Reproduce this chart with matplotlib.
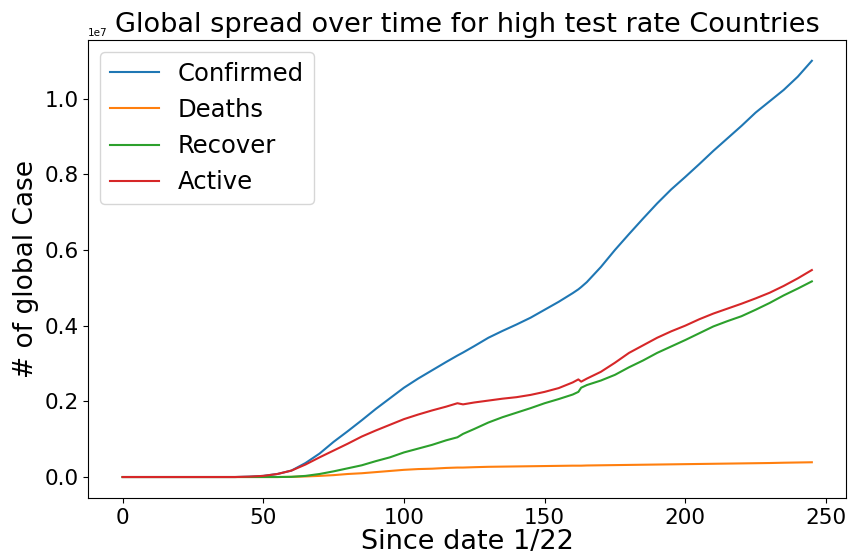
import matplotlib
matplotlib.use("Agg")
import matplotlib.pyplot as plt
import numpy as np

days = [0, 5, 10, 15, 20, 25, 30, 35, 40, 45, 50, 55, 60, 65, 70, 75, 80, 85, 90, 95,
        100, 105, 110, 115, 119, 121, 125, 130, 135, 140, 145, 150, 155, 160, 162, 163,
        165, 170, 175, 180, 185, 190, 195, 200, 205, 210, 215, 220, 225, 230, 235, 240, 245]

# values in millions of cases
confirmed = [0, 0, 0, 0, 0, 0, 0, 0, 0, 0.01, 0.03, 0.08, 0.17, 0.37, 0.62, 0.93, 1.21, 1.50, 1.80, 2.08,
             2.36, 2.60, 2.82, 3.04, 3.21, 3.29, 3.46, 3.68, 3.86, 4.03, 4.21, 4.42, 4.63, 4.86, 4.96, 5.02,
             5.15, 5.55, 6.00, 6.42, 6.83, 7.23, 7.60, 7.93, 8.27, 8.62, 8.95, 9.28, 9.63, 9.93, 10.23, 10.58, 11.0]
deaths = [0, 0, 0, 0, 0, 0, 0, 0, 0, 0, 0, 0, 0.005, 0.015, 0.03, 0.05, 0.08, 0.10, 0.13, 0.16,
          0.19, 0.21, 0.22, 0.24, 0.25, 0.25, 0.26, 0.27, 0.275, 0.28, 0.285, 0.29, 0.295, 0.30, 0.30, 0.30,
          0.305, 0.31, 0.315, 0.32, 0.325, 0.33, 0.335, 0.34, 0.345, 0.35, 0.355, 0.36, 0.365, 0.37, 0.378, 0.384, 0.39]
recover = [0, 0, 0, 0, 0, 0, 0, 0, 0, 0, 0, 0, 0.005, 0.03, 0.08, 0.15, 0.23, 0.31, 0.42, 0.52,
           0.65, 0.75, 0.85, 0.97, 1.05, 1.14, 1.27, 1.44, 1.58, 1.70, 1.82, 1.95, 2.06, 2.18, 2.25, 2.36,
           2.43, 2.55, 2.70, 2.90, 3.08, 3.28, 3.45, 3.62, 3.80, 3.98, 4.12, 4.25, 4.42, 4.60, 4.80, 4.98, 5.17]
active = [0, 0, 0, 0, 0, 0, 0, 0, 0, 0.01, 0.03, 0.08, 0.17, 0.33, 0.52, 0.70, 0.88, 1.07, 1.23, 1.38,
          1.53, 1.65, 1.76, 1.86, 1.95, 1.92, 1.97, 2.02, 2.07, 2.11, 2.17, 2.25, 2.35, 2.50, 2.58, 2.52,
          2.60, 2.78, 3.02, 3.28, 3.48, 3.68, 3.85, 4.00, 4.17, 4.32, 4.45, 4.58, 4.72, 4.87, 5.05, 5.25, 5.47]

series = [("Confirmed", confirmed), ("Deaths", deaths), ("Recover", recover), ("Active", active)]

fig = plt.figure(figsize=(8.48, 5.55), dpi=100)
ax = fig.add_axes([0.104, 0.103, 0.894, 0.825])

for name, values in series:
    ax.plot(days, np.array(values) * 1e6, label=name)

ax.set_title("Global spread over time for high test rate Countries", fontsize=19.5)
ax.set_xlabel("Since date 1/22", fontsize=19.5, labelpad=1)
ax.set_ylabel("# of global Case", fontsize=19)
ax.tick_params(labelsize=15.5)
ax.yaxis.get_offset_text().set_fontsize(7.5)
ax.legend(loc="upper left", fontsize=17.5)

fig.savefig("out.png", dpi=100)
